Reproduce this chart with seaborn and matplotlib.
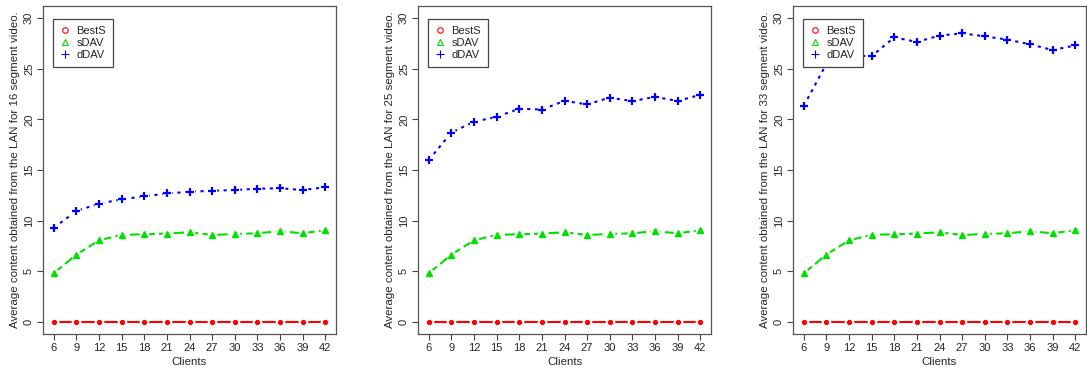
import matplotlib
matplotlib.use('Agg')
import matplotlib.pyplot as plt
import seaborn as sns
import pandas as pd
from matplotlib.lines import Line2D

clients = [6, 9, 12, 15, 18, 21, 24, 27, 30, 33, 36, 39, 42]
segments = [16, 25, 33]

bests = [0] * 13
sdav = [4.8, 6.65, 8.05, 8.6, 8.65, 8.72, 8.85, 8.58, 8.68, 8.75, 8.95, 8.75, 9.05]
ddav_16 = [9.3, 10.95, 11.68, 12.1, 12.4, 12.68, 12.85, 12.95, 13.02, 13.15, 13.2, 13.02, 13.3]
ddav_25 = [16.0, 18.7, 19.77, 20.25, 21.05, 20.97, 21.83, 21.48, 22.15, 21.8, 22.22, 21.82, 22.42]
ddav_33 = [21.35, 25.5, 26.3, 26.25, 28.1, 27.65, 28.28, 28.5, 28.2, 27.88, 27.42, 26.85, 27.3]
ddav = [ddav_16, ddav_25, ddav_33]

series_names = ["BestS", "sDAV", "dDAV"]
colors = ["#FF0000", "#00E000", "#0000FF"]

sns.set_theme(style="white")
plt.rcParams['font.family'] = ['Liberation Sans', 'DejaVu Sans']
plt.rcParams['font.size'] = 8

fig = plt.figure(figsize=(10.87, 3.72), dpi=100)
W, H = 1087, 372
lefts = [43, 418, 793]
pw, top, bot = 293, 6, 334

for i, seg in enumerate(segments):
    ax = fig.add_axes([lefts[i] / W, 1 - bot / H, pw / W, (bot - top) / H])
    df = pd.DataFrame({"Clients": clients, "BestS": bests, "sDAV": sdav, "dDAV": ddav[i]})
    styles = [
        dict(linestyle="-", marker="o", markersize=2.8, mfc=colors[0], mec=colors[0]),
        dict(linestyle=(0, (5, 2)), marker="^", markersize=3.8, mfc=colors[1], mec=colors[1]),
        dict(linestyle=(0, (1.5, 2.2)), marker="+", markersize=5.5, mew=1.6, mec=colors[2]),
    ]
    for name in series_names:
        # white gap around the points, like R's type="b"
        ax.plot(df["Clients"], df[name], linestyle="none", marker="o", markersize=6,
                mfc="white", mec="white", zorder=3)
    for name, col, st in zip(series_names, colors, styles):
        sns.lineplot(data=df, x="Clients", y=name, ax=ax, color=col, linewidth=1.5,
                     zorder=2, linestyle=st["linestyle"])
        ax.plot(df["Clients"], df[name], linestyle="none", zorder=4,
                **{k: v for k, v in st.items() if k != "linestyle"})

    ax.set_xlim(6 - 36 * 0.04, 42 + 36 * 0.04)
    ax.set_ylim(-1.2, 31.2)
    ax.set_xticks(clients)
    ax.set_yticks([0, 5, 10, 15, 20, 25, 30])
    ax.set_xlabel("Clients", fontsize=8.25, labelpad=3)
    ax.set_ylabel(f"Average content obtained from the LAN for {seg} segment video.",
                  fontsize=8.25, labelpad=3)
    ax.tick_params(axis="both", direction="out", length=4.5, width=0.8, color="#444444",
                   labelsize=8, pad=2, left=True, bottom=True)
    for lab in ax.get_yticklabels():
        lab.set_rotation(90)
        lab.set_va("center")
    for s in ax.spines.values():
        s.set_color("#555555")
        s.set_linewidth(0.9)

    handles = [
        Line2D([], [], linestyle="none", marker="o", markersize=4, mfc="none", mec=colors[0], mew=0.8),
        Line2D([], [], linestyle="none", marker="^", markersize=5, mfc="none", mec=colors[1], mew=0.8),
        Line2D([], [], linestyle="none", marker="+", markersize=6, mec=colors[2], mew=0.8),
    ]
    leg = ax.legend(handles, series_names, loc="upper left", bbox_to_anchor=(10 / pw, 1 - 13 / (bot - top)),
                    borderaxespad=0, fancybox=False, framealpha=1, edgecolor="#444444",
                    fontsize=8, handlelength=1.0, handletextpad=0.5, labelspacing=0.2,
                    borderpad=0.6)
    leg.get_frame().set_linewidth(0.9)
    leg.set_zorder(10)

fig.savefig("out.png", dpi=100)
